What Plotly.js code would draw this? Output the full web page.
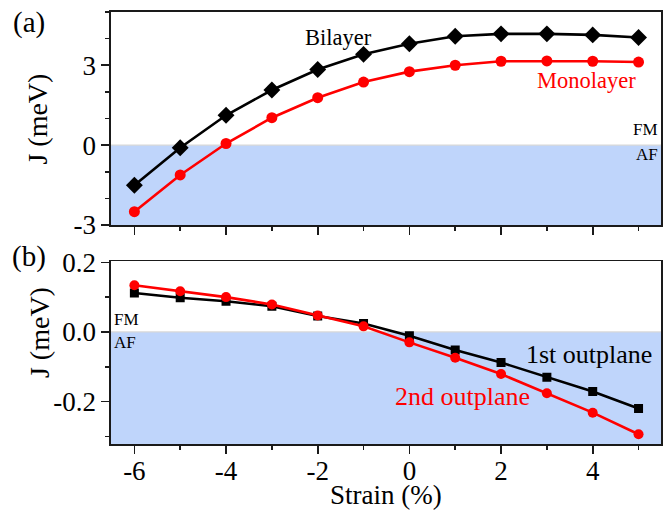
<!DOCTYPE html>
<html>
<head>
<meta charset="utf-8">
<script src="https://cdn.plot.ly/plotly-3.0.1.min.js"></script>
<style>
  html, body { margin: 0; padding: 0; background: #fff; }
  #chart { width: 667px; height: 512px; }
</style>
</head>
<body>
<div id="chart"></div>
<script>
// Strain (%) sampled from -6 to 5
const strain = [-6, -5, -4, -3, -2, -1, 0, 1, 2, 3, 4, 5];

// (a) nearest-neighbour exchange J (meV)
const bilayerJ   = [-1.51, -0.10, 1.12, 2.07, 2.84, 3.41, 3.81, 4.09, 4.18, 4.18, 4.14, 4.04];
const monolayerJ = [-2.50, -1.12, 0.06, 1.03, 1.78, 2.37, 2.76, 3.00, 3.15, 3.16, 3.15, 3.12];

// (b) out-of-plane exchange J (meV)
const outplane1J = [0.112, 0.098, 0.088, 0.074, 0.046, 0.024, -0.011, -0.052, -0.088, -0.130, -0.171, -0.220];
const outplane2J = [0.134, 0.117, 0.100, 0.079, 0.047, 0.016, -0.030, -0.074, -0.121, -0.176, -0.232, -0.294];

const xTicks = [-6, -4, -2, 0, 2, 4];
const xTickText = ['-6', '-4', '-2', '0', '2', '4'];
const yTicksA = [-3, 0, 3];
const yTickTextA = ['-3', '0', '3'];
const yTicksB = [-0.2, 0.0, 0.2];
const yTickTextB = ['-0.2', '0.0', '0.2'];

const SERIF = 'Liberation Serif';
const AXIS_COLOR = '#1a1a1a';
const AF_FILL = '#bfd5fb';

const xRange = [-6.51, 5.49];
const yRangeA = [-3, 5];
const yRangeB = [-0.322, 0.203];

function line(x, y, color, symbol, size, xa, ya) {
  return {
    x: x, y: y, xaxis: xa, yaxis: ya,
    type: 'scatter', mode: 'lines+markers',
    line: { color: color, width: 2.6 },
    marker: { color: color, symbol: symbol, size: size },
    hoverinfo: 'x+y', showlegend: false
  };
}

const traces = [
  line(strain, bilayerJ, '#000000', 'diamond', 13, 'x', 'y'),
  line(strain, monolayerJ, '#ff0000', 'circle', 11, 'x', 'y'),
  line(strain, outplane1J, '#000000', 'square', 9, 'x2', 'y2'),
  line(strain, outplane2J, '#ff0000', 'circle', 10, 'x2', 'y2')
];

const minorTicks = (d) => ({ dtick: d, tick0: 0, ticks: 'outside', ticklen: 4, tickcolor: AXIS_COLOR, tickwidth: 1.6 });

const baseAxis = {
  showline: true, mirror: true, linecolor: AXIS_COLOR, linewidth: 1.6,
  ticks: 'outside', tickcolor: AXIS_COLOR, tickwidth: 1.6, ticklen: 8,
  showgrid: false, zeroline: false,
  tickfont: { family: SERIF, size: 27, color: '#000' }
};

const layout = {
  width: 667, height: 512,
  margin: { l: 111, r: 6, t: 12, b: 68 },
  paper_bgcolor: '#fff', plot_bgcolor: '#fff',
  font: { family: SERIF, color: '#000' },
  showlegend: false,
  xaxis: Object.assign({}, baseAxis, {
    domain: [0, 1], anchor: 'y', range: xRange,
    tickmode: 'array', tickvals: xTicks, ticktext: xTickText, showticklabels: false,
    minor: minorTicks(1)
  }),
  yaxis: Object.assign({}, baseAxis, {
    domain: [0.507, 1], anchor: 'x', range: yRangeA,
    tickmode: 'array', tickvals: yTicksA, ticktext: yTickTextA,
    minor: minorTicks(1)
  }),
  xaxis2: Object.assign({}, baseAxis, {
    domain: [0, 1], anchor: 'y2', range: xRange,
    tickmode: 'array', tickvals: xTicks, ticktext: xTickText,
    ticklabelstandoff: -6,
    minor: minorTicks(1)
  }),
  yaxis2: Object.assign({}, baseAxis, {
    domain: [0, 0.423], anchor: 'x2', range: yRangeB,
    tickmode: 'array', tickvals: yTicksB, ticktext: yTickTextB,
    minor: minorTicks(0.1)
  }),
  shapes: [
    { type: 'rect', layer: 'below', xref: 'x domain', yref: 'y', x0: 0, x1: 1, y0: yRangeA[0], y1: 0,
      fillcolor: AF_FILL, line: { width: 0 } },
    { type: 'line', layer: 'below', xref: 'x domain', yref: 'y', x0: 0, x1: 1, y0: 0, y1: 0,
      line: { color: '#d8d8d8', width: 1.2 } },
    { type: 'rect', layer: 'below', xref: 'x2 domain', yref: 'y2', x0: 0, x1: 1, y0: yRangeB[0], y1: 0,
      fillcolor: AF_FILL, line: { width: 0 } },
    { type: 'line', layer: 'below', xref: 'x2 domain', yref: 'y2', x0: 0, x1: 1, y0: 0, y1: 0,
      line: { color: '#d8d8d8', width: 1.2 } }
  ],
  annotations: [
    // panel labels
    { text: '(a)', xref: 'paper', yref: 'paper', x: -0.149, y: 0.975, xanchor: 'center', yanchor: 'middle',
      showarrow: false, font: { family: SERIF, size: 29 } },
    { text: '(b)', xref: 'paper', yref: 'paper', x: -0.149, y: 0.433, xanchor: 'center', yanchor: 'middle',
      showarrow: false, font: { family: SERIF, size: 29 } },
    // axis titles
    { text: 'Strain (%)', xref: 'paper', yref: 'paper', x: 0.5, y: -0.157, xanchor: 'center', yanchor: 'bottom',
      showarrow: false, font: { family: SERIF, size: 27 } },
    { text: 'J (meV)', xref: 'paper', yref: 'paper', x: -0.133, y: 0.753, textangle: -90,
      xanchor: 'center', yanchor: 'middle', showarrow: false, font: { family: SERIF, size: 28 } },
    { text: 'J (meV)', xref: 'paper', yref: 'paper', x: -0.129, y: 0.257, textangle: -90,
      xanchor: 'center', yanchor: 'middle', showarrow: false, font: { family: SERIF, size: 28 } },
    // series labels, panel (a)
    { text: 'Bilayer', xref: 'x', yref: 'y', x: -1.55, y: 4.05, xanchor: 'center', yanchor: 'middle',
      showarrow: false, font: { family: SERIF, size: 22.5, color: '#000' } },
    { text: 'Monolayer', xref: 'x', yref: 'y', x: 3.87, y: 2.42, xanchor: 'center', yanchor: 'middle',
      showarrow: false, font: { family: SERIF, size: 22.5, color: '#ff0000' } },
    { text: 'FM', xref: 'x', yref: 'y', x: 5.46, y: 0.6, xanchor: 'right', yanchor: 'middle',
      showarrow: false, font: { family: SERIF, size: 17 } },
    { text: 'AF', xref: 'x', yref: 'y', x: 5.46, y: -0.34, xanchor: 'right', yanchor: 'middle',
      showarrow: false, font: { family: SERIF, size: 17 } },
    // series labels, panel (b)
    { text: '1st outplane', xref: 'x2', yref: 'y2', x: 5.33, y: -0.066, xanchor: 'right', yanchor: 'middle',
      showarrow: false, font: { family: SERIF, size: 26, color: '#000' } },
    { text: '2nd outplane', xref: 'x2', yref: 'y2', x: 1.16, y: -0.186, xanchor: 'center', yanchor: 'middle',
      showarrow: false, font: { family: SERIF, size: 26, color: '#ff0000' } },
    { text: 'FM', xref: 'x2', yref: 'y2', x: -6.49, y: 0.037, xanchor: 'left', yanchor: 'middle',
      showarrow: false, font: { family: SERIF, size: 17 } },
    { text: 'AF', xref: 'x2', yref: 'y2', x: -6.49, y: -0.029, xanchor: 'left', yanchor: 'middle',
      showarrow: false, font: { family: SERIF, size: 17 } }
  ]
};

Plotly.newPlot('chart', traces, layout, { staticPlot: true, displayModeBar: false });
</script>
</body>
</html>
